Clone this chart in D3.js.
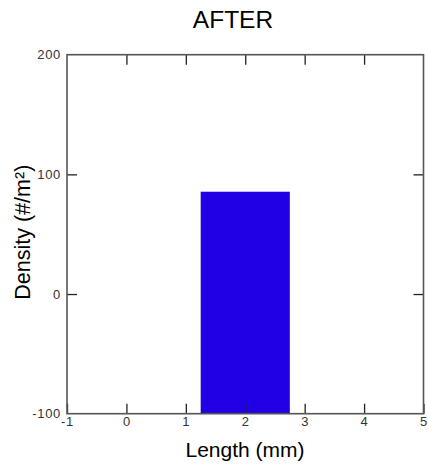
<!DOCTYPE html>
<html><head><meta charset="utf-8">
<script src="https://cdn.jsdelivr.net/npm/d3@7"></script>
<style>body{margin:0;background:#fff;} svg{display:block;font-family:"Liberation Sans",Arial,sans-serif;}</style>
</head><body>
<svg id="c" width="428" height="469"></svg>
<script>
const binStarts = [1.25];
const binEnds = [2.75];
const densities = [85.5];
const xTicks = [-1, 0, 1, 2, 3, 4, 5];
const yTicks = [-100, 0, 100, 200];
const title = "AFTER";
const xLabel = "Length (mm)";
const yLabel = "Density (#/m²)";

const svg = d3.select("#c");
const L = 67, R = 423.5, T = 54.7, B = 413.7;
const x = d3.scaleLinear().domain([-1, 5]).range([L, R]);
const y = d3.scaleLinear().domain([-100, 200]).range([B, T]);
const fmt = d => String(d).replace("\u2212", "-");

svg.append("rect").attr("width",428).attr("height",469).attr("fill","#fff");

// bars
svg.selectAll("rect.bar").data(densities).enter().append("rect")
  .attr("class","bar")
  .attr("x",(d,i)=>x(binStarts[i]))
  .attr("width",(d,i)=>x(binEnds[i])-x(binStarts[i]))
  .attr("y",d=>y(d))
  .attr("height",d=>y(-100)-y(d))
  .attr("fill","#2200e6");

const tl = 10;
function styleAxis(g){
  g.select(".domain").remove();
  g.selectAll(".tick line").attr("stroke","#222").attr("stroke-width",1.3);
  g.selectAll(".tick text").attr("fill","#333").style("font-size","13px").style("letter-spacing","0.7px");
}
// bottom
svg.append("g").attr("transform",`translate(0,${B})`)
  .call(d3.axisBottom(x).tickValues(xTicks).tickSizeInner(-tl).tickSizeOuter(0).tickPadding(5).tickFormat(fmt))
  .call(styleAxis)
  .call(g=>g.selectAll(".tick text").attr("y",3.5));
// top
svg.append("g").attr("transform",`translate(0,${T})`)
  .call(d3.axisTop(x).tickValues(xTicks.slice(1,-1)).tickSizeInner(-tl).tickSizeOuter(0).tickFormat(""))
  .call(styleAxis);
// left
svg.append("g").attr("transform",`translate(${L},0)`)
  .call(d3.axisLeft(y).tickValues(yTicks).tickSizeInner(-tl).tickSizeOuter(0).tickPadding(6).tickFormat(fmt))
  .call(styleAxis)
  .call(g=>g.selectAll(".tick text").attr("x",-6))
  .call(g=>g.selectAll(".tick").filter(d=>d===-100||d===200).select("line").remove());
// right
svg.append("g").attr("transform",`translate(${R},0)`)
  .call(d3.axisRight(y).tickValues(yTicks.slice(1,-1)).tickSizeInner(-tl).tickSizeOuter(0).tickFormat(""))
  .call(styleAxis);

// frame
svg.append("rect").attr("x",L).attr("y",T).attr("width",R-L).attr("height",B-T)
  .attr("fill","none").attr("stroke","#555").attr("stroke-width",1.6);

svg.append("text").attr("x",233).attr("y",28).attr("text-anchor","middle")
  .style("font-size","24.5px").attr("fill","#000").text(title);
svg.append("text").attr("x",245).attr("y",457).attr("text-anchor","middle")
  .style("font-size","21px").attr("fill","#000").text(xLabel);
svg.append("text").attr("transform",`translate(30,${(T+B)/2-2}) rotate(-90)`).attr("text-anchor","middle")
  .style("font-size","21.5px").attr("fill","#000").text(yLabel);
</script>
</body></html>
